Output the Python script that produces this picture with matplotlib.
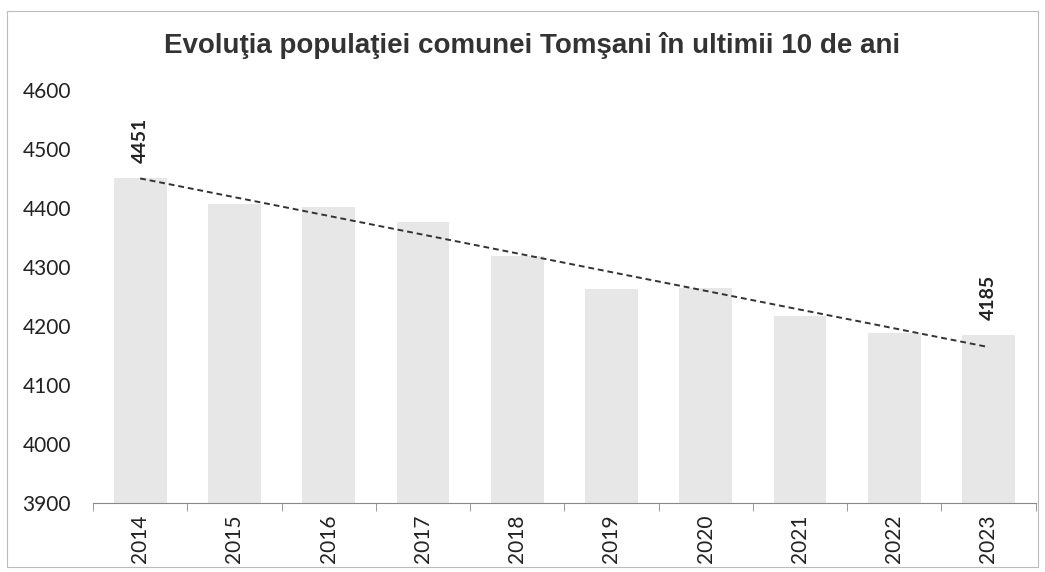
import numpy as np
import matplotlib.pyplot as plt
from matplotlib.patches import Rectangle

years = ['2014', '2015', '2016', '2017', '2018', '2019', '2020', '2021', '2022', '2023']
population = [4451, 4407, 4402, 4376, 4318, 4263, 4265, 4217, 4188, 4185]
yticks = [3900, 4000, 4100, 4200, 4300, 4400, 4500, 4600]

fig = plt.figure(figsize=(10.45, 5.72), dpi=100)
ax = fig.add_axes([0.089, 0.1206, 0.902, 0.7221])

x = np.arange(len(years))
ax.bar(x, population, width=0.56, color='#e7e7e7')

# linia de trend liniara
k, b = np.polyfit(x, population, 1)
ax.plot(x, k * x + b, linestyle=(0, (3, 2)), color='#333333', linewidth=1.4)

# etichete doar pentru primul si ultimul an
for i in [0, len(years) - 1]:
    ax.annotate(str(population[i]), (x[i], population[i]), xytext=(0, 11),
                textcoords='offset points', rotation=90, ha='center', va='bottom',
                fontsize=14, fontweight='bold', color='#222222', family='Lato')

ax.set_ylim(3900, 4600)
ax.set_xlim(-0.5, len(years) - 0.5)
ax.set_yticks(yticks)
ax.set_yticklabels([str(v) for v in yticks], fontsize=15, family='Lato', color='#222222')
ax.set_xticks(x)
ax.set_xticklabels(years, rotation=90, fontsize=15, family='Lato', color='#222222')
ax.set_xticks(np.arange(-0.5, len(years)), minor=True)
ax.tick_params(axis='x', which='major', length=0, pad=8)
ax.tick_params(axis='x', which='minor', length=6, color='#888888')
ax.tick_params(axis='y', length=0, pad=16)

for s in ['top', 'right', 'left']:
    ax.spines[s].set_visible(False)
ax.spines['bottom'].set_color('#888888')

fig.text(0.509, 0.92, 'Evoluţia populaţiei comunei Tomşani în ultimii 10 de ani',
         ha='center', va='center', fontsize=20, fontweight='bold',
         family='Liberation Sans', color='#333333')

fig.patches.append(Rectangle((0.007, 0.008), 0.986, 0.972, transform=fig.transFigure,
                             fill=False, edgecolor='#bbbbbb', linewidth=0.8))

fig.savefig('out.png', dpi=100)
